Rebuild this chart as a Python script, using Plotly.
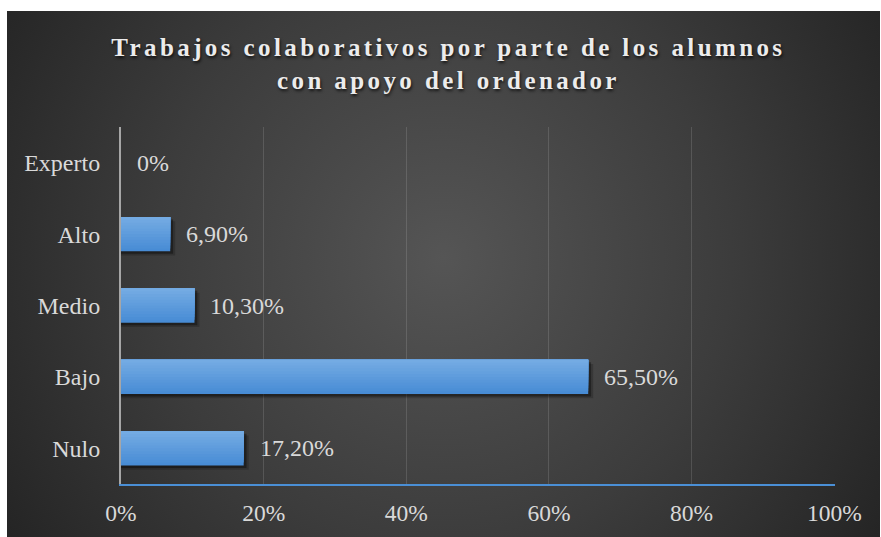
import base64
import plotly.graph_objects as go

# ---- data ----
categories = ["Nulo", "Bajo", "Medio", "Alto", "Experto"]
values = [17.2, 65.5, 10.3, 6.9, 0.0]
value_labels = ["17,20%", "65,50%", "10,30%", "6,90%", "0%"]
x_ticks = [0, 20, 40, 60, 80, 100]
x_tick_labels = ["0%", "20%", "40%", "60%", "80%", "100%"]
title_text = "Trabajos colaborativos por parte de los alumnos<br>con apoyo del ordenador"

FONT = "Liberation Serif, Times New Roman, serif"
W, H = 881, 537
L, R, T, B = 121, 46, 127, 53
pw, ph = W - L - R, H - T - B

# background radial gradient (chart area box)
bx0, by0, bx1, by1 = 7, 11, 880, 537
bw, bh = bx1 - bx0, by1 - by0
svg = (
    f"<svg xmlns='http://www.w3.org/2000/svg' width='{bw}' height='{bh}' viewBox='0 0 {bw} {bh}'>"
    f"<defs><radialGradient id='g' cx='{bw*0.5}' cy='{bh*0.47}' r='{bw*0.6}' gradientUnits='userSpaceOnUse'>"
    "<stop offset='0' stop-color='#555555'/><stop offset='0.55' stop-color='#3c3c3c'/>"
    "<stop offset='1' stop-color='#242424'/></radialGradient></defs>"
    f"<rect width='{bw}' height='{bh}' fill='url(#g)'/></svg>"
)
src = "data:image/svg+xml;base64," + base64.b64encode(svg.encode()).decode()

BAR_W = 0.48
fig = go.Figure()

# soft shadow behind bars (two layers for a blurred look)
for dx, dy, a in [(0.7, 0.06, 0.18), (0.4, 0.035, 0.35)]:
    shadow_x = [v + dx if v > 0 else 0 for v in values]
    fig.add_trace(go.Bar(
        x=shadow_x, y=categories, orientation="h", width=BAR_W, offset=-BAR_W / 2 - dy,
        marker=dict(color=f"rgba(0,0,0,{a})", line=dict(width=0)), hoverinfo="skip",
    ))

# bar body drawn as overlapping vertical gradient layers (bottom dark -> top light)
top_rgb, bot_rgb = (0x74, 0xab, 0xe3), (0x48, 0x8c, 0xd5)
N = 12
for i in range(N):
    t = i / (N - 1)
    col = tuple(round(bot_rgb[k] + (top_rgb[k] - bot_rgb[k]) * t) for k in range(3))
    fig.add_trace(go.Bar(
        x=values, y=categories, orientation="h",
        width=BAR_W * (N - i) / N, offset=-BAR_W / 2 + BAR_W * i / N,
        marker=dict(color="rgb(%d,%d,%d)" % col, line=dict(width=0)), hoverinfo="skip",
    ))

for v, c, lab in zip(values, categories, value_labels):
    fig.add_annotation(x=v, y=c, text=lab, showarrow=False, xanchor="left",
                       xshift=14, font=dict(family=FONT, size=24, color="#d9d9d9"))

fig.add_layout_image(dict(
    source=src, xref="paper", yref="paper",
    x=(bx0 - L) / pw, y=(H - B - by0) / ph,
    sizex=bw / pw, sizey=bh / ph,
    xanchor="left", yanchor="top", sizing="stretch", layer="below",
))

fig.update_layout(
    width=W, height=H,
    margin=dict(l=L, r=R, t=T, b=B),
    paper_bgcolor="white", plot_bgcolor="rgba(0,0,0,0)",
    barmode="overlay", showlegend=False,
    title=dict(text=title_text, xref="container", yref="container",
               x=0.509, xanchor="center", y=1 - 56 / H, yanchor="top",
               font=dict(family=FONT, size=25, color="#ececec", weight="bold",
                         shadow="1px 2px 3px rgba(0,0,0,0.7)")),
    xaxis=dict(range=[0, 100.1], tickvals=x_ticks, ticktext=x_tick_labels,
               showgrid=True, gridcolor="rgba(255,255,255,0.13)", gridwidth=1,
               zeroline=False, showline=True, linecolor="#4a8fd6", linewidth=2,
               ticks="", ticklabelstandoff=7, automargin=False,
               tickfont=dict(family=FONT, size=23.5, color="#d9d9d9"), fixedrange=True),
    yaxis=dict(categoryorder="array", categoryarray=categories,
               showgrid=False, zeroline=False, showline=True, linecolor="#a6a6a6", linewidth=2,
               ticks="", ticklabelstandoff=14, automargin=False,
               tickfont=dict(family=FONT, size=24, color="#d9d9d9"), fixedrange=True),
)

post = """
document.body.style.margin='0';
document.body.style.overflow='hidden';
document.querySelectorAll('.gtitle').forEach(function(e){e.style.letterSpacing='3.4px';});
"""
fig.write_html("out.html", post_script=post, config={"displayModeBar": False})
